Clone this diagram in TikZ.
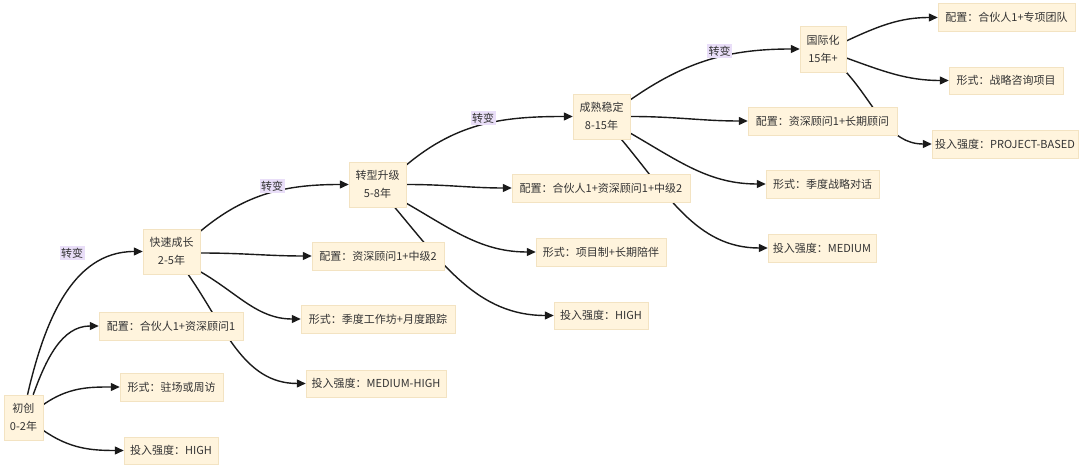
\documentclass[tikz,border=0pt]{standalone}
\usepackage{fontspec}
\setmainfont{Noto Sans CJK SC}
\usetikzlibrary{arrows.meta,backgrounds}
\definecolor{boxfill}{HTML}{FFF4DD}
\definecolor{boxline}{HTML}{F3E3C2}
\definecolor{tagfill}{HTML}{E9DEF8}
\definecolor{ink}{HTML}{333333}
\definecolor{wire}{HTML}{1A1A1A}

\begin{document}
\begin{tikzpicture}[x=1pt,y=1pt,
  stage/.style={fill=boxfill,draw=boxline,line width=0.5pt,text=ink,inner sep=0pt,
    minimum width=57,minimum height=45,align=center,font=\fontsize{11}{18}\selectfont},
  detail/.style={fill=boxfill,draw=boxline,line width=0.5pt,text=ink,inner sep=0pt,
    minimum height=28,font=\fontsize{11}{13}\selectfont},
  tagbox/.style={fill=tagfill,text=ink,inner sep=1.5pt,font=\fontsize{11}{13}\selectfont},
  link/.style={wire,line width=1.4pt,-{Triangle[length=9pt,width=8pt]}}]

  \useasboundingbox (0,0) rectangle (1080,468);

  % stages
  \node[stage,minimum width=39] (s0) at (23.5,50.5) {初创\\0-2年};
  \node[stage] (s1) at (171.5,216.5) {快速成长\\2-5年};
  \node[stage] (s2) at (377.5,283.5) {转型升级\\5-8年};
  \node[stage] (s3) at (601.5,351.5) {成熟稳定\\8-15年};
  \node[stage,minimum width=46,minimum height=46] (s4) at (823,419) {国际化\\15年+};

  % staffing, form, intensity of each stage
  \node[detail,minimum width=144] (k0) at (171,142) {配置：合伙人1+资深顾问1};
  \node[detail,minimum width=103] (f0) at (171.5,81) {形式：驻场或周访};
  \node[detail,minimum width=94,minimum height=27] (i0) at (171,17.5) {投入强度：HIGH};

  \node[detail,minimum width=132] (k1) at (378,212) {配置：资深顾问1+中级2};
  \node[detail,minimum width=154] (f1) at (378,149) {形式：季度工作坊+月度跟踪};
  \node[detail,minimum width=140,minimum height=27] (i1) at (376,84.5) {投入强度：MEDIUM-HIGH};

  \node[detail,minimum width=178] (k2) at (601,280) {配置：合伙人1+资深顾问1+中级2};
  \node[detail,minimum width=130] (f2) at (601,216) {形式：项目制+长期陪伴};
  \node[detail,minimum width=94,minimum height=27] (i2) at (601,152.5) {投入强度：HIGH};

  \node[detail,minimum width=149] (k3) at (822.5,347) {配置：资深顾问1+长期顾问};
  \node[detail,minimum width=113] (f3) at (822.5,284) {形式：季度战略对话};
  \node[detail,minimum width=108] (i3) at (822,220) {投入强度：MEDIUM};

  \node[detail,minimum width=137] (k4) at (1006.5,450.5) {配置：合伙人1+专项团队};
  \node[detail,minimum width=114,minimum height=27] (f4) at (1006,387.5) {形式：战略咨询项目};
  \node[detail,minimum width=146] (i4) at (1005,324) {投入强度：PROJECT-BASED};

  % connectors go behind the boxes
  \begin{pgfonlayer}{background}
    \draw[link] (s0.80) to[out=77,in=180] (s1.west);
    \draw[link] (s0.67) to[out=70,in=180] (k0.west);
    \draw[link] (s0.33) to[out=35,in=180] (f0.west);
    \draw[link] (s0.-33) to[out=-35,in=180] (i0.west);

    \draw[link] (s1.35) to[out=40,in=180] (s2.west);
    \draw[link] (s1.-3) to[out=0,in=180] (k1.west);
    \draw[link] (s1.-35) to[out=-30,in=180] (f1.west);
    \draw[link] (s1.-54) to[out=-55,in=180] (i1.west);

    \draw[link] (s2.34) to[out=40,in=180] (s3.west);
    \draw[link] (s2.east) to[out=0,in=180] (k2.west);
    \draw[link] (s2.-33) to[out=-30,in=180] (f2.west);
    \draw[link] (s2.-53) to[out=-50,in=180] (i2.west);

    \draw[link] (s3.30) to[out=35,in=180] (s4.west);
    \draw[link] (s3.east) to[out=0,in=180] (k3.west);
    \draw[link] (s3.-30) to[out=-30,in=180] (f3.west);
    \draw[link] (s3.-49) to[out=-50,in=180] (i3.west);

    \draw[link] (s4.19) to[out=25,in=180] (k4.west);
    \draw[link] (s4.-21) to[out=-20,in=180] (f4.west);
    \draw[link] (s4.-45) to[out=-48,in=180] (i4.west);
  \end{pgfonlayer}

  % edge labels
  \node[tagbox] (t1) at (72,215) {转变};
  \node[tagbox] (t2) at (272,282) {转变};
  \node[tagbox] (t3) at (483,350) {转变};
  \node[tagbox] (t4) at (719.5,417) {转变};
\end{tikzpicture}
\end{document}
